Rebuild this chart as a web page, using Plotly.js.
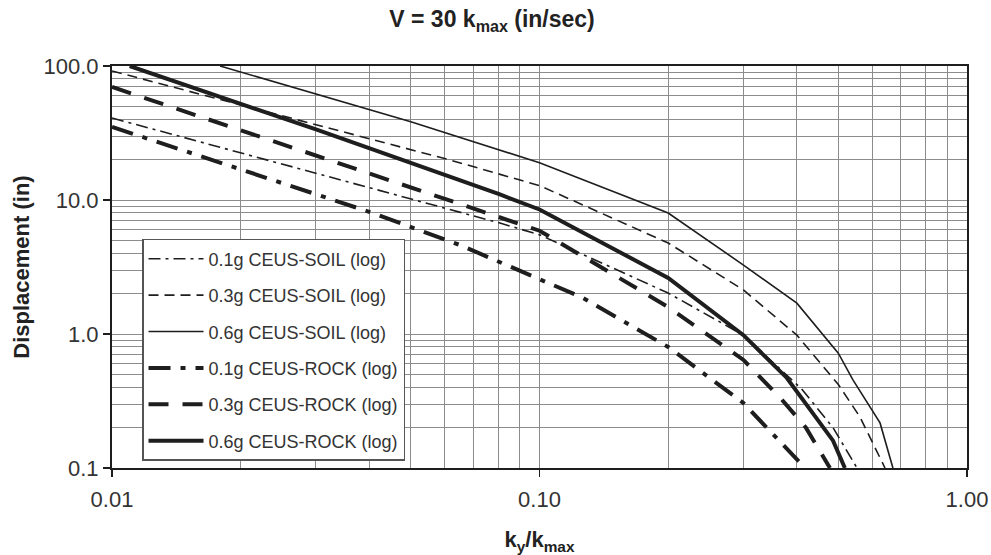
<!DOCTYPE html>
<html>
<head>
<meta charset="utf-8">
<script src="https://cdn.plot.ly/plotly-3.0.1.min.js"></script>
<style>html,body{margin:0;padding:0;background:#fff;}#chart{width:991px;height:555px;}</style>
</head>
<body>
<div id="chart"></div>
<script>
// Series names (legend order)
const seriesNames = [
  "0.1g CEUS-SOIL (log)",
  "0.3g CEUS-SOIL (log)",
  "0.6g CEUS-SOIL (log)",
  "0.1g CEUS-ROCK (log)",
  "0.3g CEUS-ROCK (log)",
  "0.6g CEUS-ROCK (log)"
];

// ky/kmax values and displacement (in)
const soil01X = [0.01, 0.05, 0.0808, 0.1, 0.2, 0.3, 0.41, 0.486, 0.553];
const soil01Y = [40.9, 10.2, 6.73, 5.5, 2.02, 0.98, 0.39, 0.2, 0.1];

const soil03X = [0.01, 0.0617, 0.1, 0.2, 0.3, 0.4, 0.5, 0.562, 0.643];
const soil03Y = [91.8, 19.9, 12.8, 4.78, 2.13, 0.98, 0.42, 0.24, 0.1];

const soil06X = [0.0179, 0.05, 0.1, 0.2, 0.3, 0.4, 0.5, 0.541, 0.626, 0.671];
const soil06Y = [100, 38.3, 19, 8.0, 3.27, 1.70, 0.72, 0.454, 0.217, 0.1];

const rock01X = [0.01, 0.0401, 0.0652, 0.1264, 0.2, 0.279, 0.3, 0.418];
const rock01Y = [35.1, 8.13, 4.61, 1.86, 0.80, 0.36, 0.305, 0.1];

const rock03X = [0.01, 0.0754, 0.1, 0.2, 0.3, 0.367, 0.42, 0.478];
const rock03Y = [69.7, 8.0, 5.9, 1.59, 0.64, 0.33, 0.2, 0.1];

const rock06X = [0.011, 0.03, 0.0808, 0.1, 0.2, 0.3, 0.379, 0.436, 0.486, 0.518];
const rock06Y = [100, 33.6, 11.0, 8.5, 2.62, 0.98, 0.47, 0.26, 0.16, 0.1];

const xTickVals = [0.01, 0.1, 1];
const xTickText = ["0.01", "0.10", "1.00"];
const yTickVals = [0.1, 1, 10, 100];
const yTickText = ["0.1", "1.0", "10.0", "100.0"];

const ink = "#1e1e1e";
const styles = [
  {width: 1.6, dash: "12px,5px,3px,5px"},
  {width: 1.6, dash: "10px,6px"},
  {width: 1.6, dash: "solid"},
  {width: 4, dash: "22px,10px,5px,10px"},
  {width: 4, dash: "20px,14px"},
  {width: 4, dash: "solid"}
];
const xs = [soil01X, soil03X, soil06X, rock01X, rock03X, rock06X];
const ys = [soil01Y, soil03Y, soil06Y, rock01Y, rock03Y, rock06Y];

const traces = seriesNames.map((n, i) => ({
  x: xs[i], y: ys[i], name: n, type: "scatter", mode: "lines",
  legendgroup: "g" + i,
  line: {color: ink, width: styles[i].width, dash: styles[i].dash},
  hoverinfo: "x+y+name"
}));

const gridColor = "#8c8c8c";
const layout = {
  width: 991, height: 555,
  paper_bgcolor: "#ffffff", plot_bgcolor: "#ffffff",
  margin: {l: 112, r: 24, t: 66, b: 87},
  font: {family: "Liberation Sans, Arial, sans-serif", color: "#222"},
  title: {
    text: "<b>V = 30 k<sub>max</sub> (in/sec)</b>",
    font: {size: 23, color: "#222"},
    x: 0.4965, xref: "container", xanchor: "center",
    y: 0.966, yref: "container", yanchor: "middle"
  },
  xaxis: {
    type: "log", range: [-2, 0],
    tickvals: xTickVals, ticktext: xTickText,
    ticks: "outside", ticklen: 7, tickwidth: 1.5, tickcolor: ink,
    tickfont: {size: 22, color: "#333"}, ticklabelstandoff: 4,
    showgrid: true, gridcolor: gridColor, gridwidth: 1,
    minor: {dtick: "D1", showgrid: true, gridcolor: gridColor, gridwidth: 1, ticks: ""},
    showline: true, mirror: true, linecolor: ink, linewidth: 2,
    zeroline: false,
    title: {text: "<b>k<sub>y</sub>/k<sub>max</sub></b>", font: {size: 22, color: "#222"}, standoff: 22}
  },
  yaxis: {
    type: "log", range: [-1, 2],
    tickvals: yTickVals, ticktext: yTickText,
    ticks: "outside", ticklen: 7, tickwidth: 1.5, tickcolor: ink,
    tickfont: {size: 22, color: "#333"},
    showgrid: true, gridcolor: gridColor, gridwidth: 1,
    minor: {dtick: "D1", showgrid: true, gridcolor: gridColor, gridwidth: 1, ticks: ""},
    showline: true, mirror: true, linecolor: ink, linewidth: 2,
    zeroline: false,
    title: {text: "<b>Displacement (in)</b>", font: {size: 22, color: "#222"}, standoff: 8}
  },
  legend: {
    x: 0.0351, y: 0.5697, xanchor: "left", yanchor: "top",
    bgcolor: "#ffffff", bordercolor: "#555", borderwidth: 1.5,
    font: {size: 18, color: "#333"},
    tracegroupgap: 10, itemwidth: 55,
    traceorder: "grouped"
  },
  showlegend: true
};

Plotly.newPlot("chart", traces, layout, {displayModeBar: false, staticPlot: true});
</script>
</body>
</html>
